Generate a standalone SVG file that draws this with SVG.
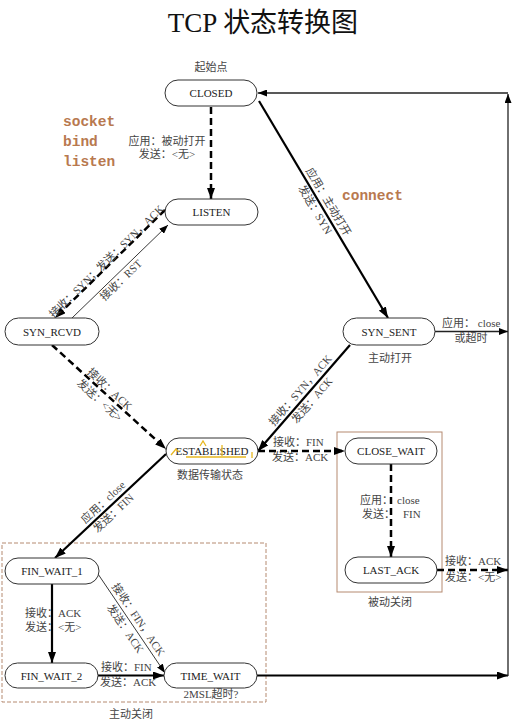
<svg xmlns="http://www.w3.org/2000/svg" width="512" height="723" viewBox="0 0 512 723">
<style>
text{font-family:"Liberation Serif","Noto Sans CJK SC",serif;}
.t{font-size:27px;fill:#111;text-anchor:middle;}
.n{font-size:11px;fill:#222;text-anchor:middle;}
.l{font-size:11px;fill:#444;}
.c{text-anchor:middle;}
.api{font-family:"Liberation Mono",monospace;font-weight:bold;font-size:14.5px;fill:#b8794f;}
.node rect{fill:#fff;stroke:#333;stroke-width:1;}
.box{fill:none;stroke:#b58a70;stroke-width:1;}
.k{fill:none;stroke:#000;stroke-width:2.2;}
.d{fill:none;stroke:#000;stroke-width:2.5;stroke-dasharray:7 4;}
.th{fill:none;stroke:#222;stroke-width:0.9;}
.vr{fill:none;stroke:#222;stroke-width:1.3;}
</style>
<defs>
<marker id="a" viewBox="0 0 11 8" refX="11" refY="4" markerWidth="11" markerHeight="8" markerUnits="userSpaceOnUse" orient="auto"><path d="M0,0 L11,4 L0,8 z" fill="#000"/></marker>
<marker id="s" viewBox="0 0 9 7" refX="9" refY="3.5" markerWidth="9" markerHeight="7" markerUnits="userSpaceOnUse" orient="auto"><path d="M0,0 L9,3.5 L0,7 z" fill="#000"/></marker>
</defs>
<rect width="512" height="723" fill="#fff"/>
<text class="t" x="263" y="32">TCP 状态转换图</text>

<g id="boxes">
<rect class="box" x="337" y="432" width="105" height="160"/>
<rect class="box" x="2" y="543" width="264" height="159" stroke-dasharray="4 2"/>
<text class="l c" x="390" y="606">被动关闭</text>
<text class="l c" x="131" y="718">主动关闭</text>
</g>

<g id="connectors">
<path class="d" d="M211,107 L211,199" marker-end="url(#a)"/>
<path class="d" d="M165,210 L55,318" marker-end="url(#a)"/>
<path class="th" d="M72,318 L168,225" marker-end="url(#s)"/>
<path class="k" d="M259,101 L388,318" marker-end="url(#a)"/>
<path class="vr" d="M435,331.5 L508,331.5" marker-end="url(#s)"/>
<path class="d" d="M52,345 L166,449" marker-end="url(#a)"/>
<path class="k" d="M350,345 L258,451" marker-end="url(#a)"/>
<path class="d" d="M258,451 L345,451" marker-end="url(#a)"/>
<path class="d" d="M391,464 L391,557" marker-end="url(#a)"/>
<path class="d" d="M437,570 L508,570" marker-end="url(#a)"/>
<path class="k" d="M166,454 L55,558" marker-end="url(#a)"/>
<path class="k" d="M52,584 L52,663" marker-end="url(#a)"/>
<path class="th" d="M98,574 L165,673" marker-end="url(#s)"/>
<path class="k" d="M98,675.5 L164,675.5" marker-end="url(#a)"/>
<path class="k" d="M257,675.5 L508,675.5" marker-end="url(#a)"/>
<path class="vr" d="M508,676 L508,94" marker-end="url(#s)"/>
<path class="vr" d="M508,93 L258,93" marker-end="url(#s)"/>
</g>

<g id="labels">
<text class="l c" x="211" y="71">起始点</text>
<text class="l c" x="167" y="145">应用：被动打开</text>
<text class="l c" x="167" y="158">发送：&lt;无&gt;</text>
<text class="api" x="63" y="126">socket</text>
<text class="api" x="63" y="146">bind</text>
<text class="api" x="63" y="166">listen</text>
<text class="api" x="342" y="200">connect</text>
<g transform="translate(109,264) rotate(-44.5)"><text class="l c" x="0" y="0">接收：SYN；发送：SYN，ACK</text></g>
<g transform="translate(116.2,275.1) rotate(-44.1)"><text class="l c" x="0" y="10.8">接收：RST</text></g>
<g transform="translate(321.4,206) rotate(59.3)"><text class="l c" x="0" y="-4.5">应用：主动打开</text><text class="l c" x="0" y="11">发送：SYN</text></g>
<text class="l" x="442" y="327">应用： close</text>
<text class="l c" x="471" y="342">或超时</text>
<text class="l c" x="390" y="362">主动打开</text>
<g transform="translate(105.5,393.8) rotate(42.4)"><text class="l c" x="0" y="-2.5">接收：ACK</text><text class="l c" x="0" y="12.5">发送：&lt;无&gt;</text></g>
<g transform="translate(306.3,395.4) rotate(-49.1)"><text class="l c" x="0" y="-4.2">接收：SYN，ACK</text><text class="l c" x="0" y="11.3">发送：ACK</text></g>
<text class="l c" x="210" y="479">数据传输状态</text>
<text class="l" x="273" y="446">接收：FIN</text>
<text class="l" x="272" y="461">发送：ACK</text>
<text class="l" x="360" y="504">应用：<tspan x="397">close</tspan></text>
<text class="l" x="362" y="518">发送：<tspan x="403">FIN</tspan></text>
<text class="l" x="445" y="565">接收：ACK</text>
<text class="l" x="445" y="581">发送：&lt;无&gt;</text>
<g transform="translate(108.4,507.9) rotate(-43.1)"><text class="l c" x="0" y="-4">应用：close</text><text class="l c" x="0" y="11">发送：FIN</text></g>
<text class="l" x="25" y="617">接收：ACK</text>
<text class="l" x="25" y="631">发送：&lt;无&gt;</text>
<g transform="translate(131.9,624.1) rotate(55.9)"><text class="l c" x="0" y="-4.2">接收：FIN，ACK</text><text class="l c" x="0" y="11.7">发送：ACK</text></g>
<text class="l" x="101" y="671">接收：FIN</text>
<text class="l" x="100" y="686">发送：ACK</text>
<text class="l c" x="211" y="698">2MSL超时?</text>
</g>

<g id="CLOSED" class="node"><rect x="165" y="80" width="92" height="26" rx="13"/><text class="n" x="211" y="97">CLOSED</text></g>
<g id="LISTEN" class="node"><rect x="165" y="199" width="93" height="26" rx="13"/><text class="n" x="211.5" y="216">LISTEN</text></g>
<g id="SYN_RCVD" class="node"><rect x="5" y="318" width="94" height="27" rx="13.5"/><text class="n" x="52" y="335.5">SYN_RCVD</text></g>
<g id="SYN_SENT" class="node"><rect x="343" y="318" width="92" height="27" rx="13.5"/><text class="n" x="389" y="335.5">SYN_SENT</text></g>
<g id="ESTABLISHED" class="node"><rect x="166" y="438" width="92" height="26" rx="13"/><text class="n" x="212" y="455">ESTABLISHED</text>
<path d="M171,455 L176,449 L179,452 M186,457 L246,457 M200,446 L203,441 L206,446 M222,445 L222,456 M252,452 L252,458" fill="none" stroke="#e8b820" stroke-width="1.3"/></g>
<g id="CLOSE_WAIT" class="node"><rect x="345" y="438" width="92" height="26" rx="13"/><text class="n" x="391" y="455">CLOSE_WAIT</text></g>
<g id="LAST_ACK" class="node"><rect x="345" y="557" width="92" height="26" rx="13"/><text class="n" x="391" y="574">LAST_ACK</text></g>
<g id="FIN_WAIT_1" class="node"><rect x="5" y="558" width="94" height="26" rx="13"/><text class="n" x="52" y="575">FIN_WAIT_1</text></g>
<g id="FIN_WAIT_2" class="node"><rect x="5" y="663" width="93" height="25" rx="12.5"/><text class="n" x="51.5" y="679.5">FIN_WAIT_2</text></g>
<g id="TIME_WAIT" class="node"><rect x="164" y="663" width="93" height="25" rx="12.5"/><text class="n" x="210.5" y="679.5">TIME_WAIT</text></g>
</svg>
